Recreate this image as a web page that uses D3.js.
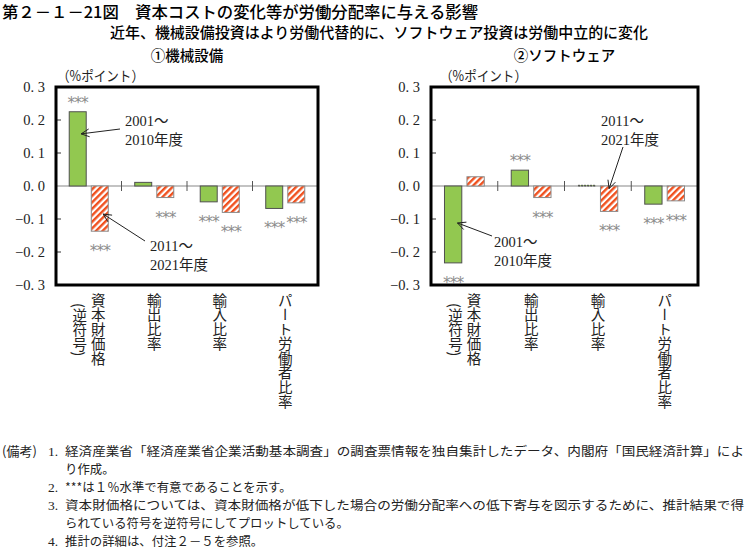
<!DOCTYPE html>
<html><head><meta charset="utf-8">
<script src="https://cdn.jsdelivr.net/npm/d3@7/dist/d3.min.js"></script>
<style>
html,body{margin:0;padding:0;background:#fff;}
svg{display:block;}
</style></head>
<body>
<svg id="c" width="750" height="551"></svg>
<script>
// ---- data ----
const categories = ["資本財価格", "輸出比率", "輸入比率", "パート労働者比率"];
const series = ["2001～2010年度", "2011～2021年度"];
const machinery2001 = [0.225, 0.011, -0.048, -0.068];
const machinery2011 = [-0.137, -0.035, -0.080, -0.051];
const software2001 = [-0.233, 0.048, 0.002, -0.055];
const software2011 = [0.028, -0.035, -0.077, -0.045];
const machinerySig2001 = [true, false, true, true];
const machinerySig2011 = [true, true, true, true];
const softwareSig2001 = [true, true, false, true];
const softwareSig2011 = [false, true, true, true];
const yTicks = [0.3, 0.2, 0.1, 0, -0.1, -0.2, -0.3];
const yTickLabels = ["0. 3", "0. 2", "0. 1", "0. 0", "−0. 1", "−0. 2", "−0. 3"];
const panelTitles = ["①機械設備", "②ソフトウェア"];
const unitLabel = "（%ポイント）";
const starText = "***";
const title = "第２－１－21図　資本コストの変化等が労働分配率に与える影響";
const subtitle = "近年、機械設備投資はより労働代替的に、ソフトウェア投資は労働中立的に変化";
const notes = [
  ["(備考)", "1.", "経済産業省「経済産業省企業活動基本調査」の調査票情報を独自集計したデータ、内閣府「国民経済計算」によ"],
  ["", "", "り作成。"],
  ["", "2.", "***は１％水準で有意であることを示す。"],
  ["", "3.", "資本財価格については、資本財価格が低下した場合の労働分配率への低下寄与を図示するために、推計結果で得"],
  ["", "", "られている符号を逆符号にしてプロットしている。"],
  ["", "4.", "推計の詳細は、付注２－５を参照。"]
];

const panels = [
  {values: [machinery2001, machinery2011], sig: [machinerySig2001, machinerySig2011], x0: 56, x1: 318},
  {values: [software2001, software2011], sig: [softwareSig2001, softwareSig2011], x0: 431, x1: 698}
];
// annotations: which bar the arrow points at, and where on it
const annotations = [
  {panel: 0, s: 0, c: 0, v: 0.158, f: 0.7, lines: ["2001～", "2010年度"], tx: 125, ty: 126, sx: 120, sy: 129},
  {panel: 0, s: 1, c: 0, v: -0.085, f: 0.7, lines: ["2011～", "2021年度"], tx: 150, ty: 251, sx: 145, sy: 241},
  {panel: 1, s: 1, c: 2, v: -0.008, f: 0.5, lines: ["2011～", "2021年度"], tx: 601, ty: 126, sx: 623, sy: 147},
  {panel: 1, s: 0, c: 0, v: -0.112, f: 0.75, lines: ["2001～", "2010年度"], tx: 494, ty: 247, sx: 492, sy: 236}
];

const JP = "'Noto Sans CJK JP','Noto Sans',sans-serif";
const SERIF = "'Liberation Serif','Noto Sans CJK JP',serif";
const svg = d3.select("#c");

// pattern
const defs = svg.append("defs");
const pat = defs.append("pattern").attr("id", "hatch").attr("patternUnits", "userSpaceOnUse")
  .attr("width", 4.6).attr("height", 4.6).attr("patternTransform", "rotate(45)");
pat.append("rect").attr("width", 4.6).attr("height", 4.6).attr("fill", "#fff");
pat.append("rect").attr("width", 2.4).attr("height", 4.6).attr("fill", "#F0501E");

// titles
svg.append("text").attr("x", 2).attr("y", 18).attr("font-family", JP).attr("font-size", 16)
  .attr("font-weight", 500).attr("textLength", 476).attr("lengthAdjust", "spacingAndGlyphs").text(title);
svg.append("text").attr("x", 379).attr("y", 38).attr("text-anchor", "middle").attr("font-family", JP)
  .attr("font-size", 15).attr("font-weight", 500).attr("textLength", 538).attr("lengthAdjust", "spacingAndGlyphs").text(subtitle);

const y = d3.scaleLinear().domain([-0.3, 0.3]).range([285, 87]);

panels.forEach((p, pi) => {
  const g = svg.append("g");
  const x = d3.scaleBand().domain(categories).range([p.x0, p.x1]).padding(0);
  const xs = d3.scaleBand().domain(series).range([0, x.bandwidth()]).paddingInner(0.23).paddingOuter(0.6);
  p.x = x; p.xs = xs;

  // panel title
  svg.append("text").attr("x", (p.x0 + p.x1) / 2).attr("y", 61).attr("text-anchor", "middle")
    .attr("font-family", JP).attr("font-size", 14.5).attr("font-weight", 500).text(panelTitles[pi]);
  // unit
  svg.append("text").attr("x", p.x0 + 1 + pi * 8).attr("y", 81).attr("font-family", JP)
    .attr("font-size", 14).attr("fill", "#222").attr("textLength", 87).attr("lengthAdjust", "spacingAndGlyphs").text(unitLabel);

  // y tick labels
  g.selectAll("text.yt").data(yTicks).enter().append("text")
    .attr("x", p.x0 - 11).attr("y", d => y(d) + 5).attr("text-anchor", "end")
    .attr("font-family", SERIF).attr("font-size", 14.5).attr("fill", "#222")
    .text((d, i) => yTickLabels[i]);
  // inside ticks
  g.selectAll("line.yt").data(yTicks.filter(d => Math.abs(d) > 0.001 && Math.abs(d) < 0.29)).enter().append("line")
    .attr("x1", p.x0).attr("x2", p.x0 + 5).attr("y1", d => y(d)).attr("y2", d => y(d))
    .attr("stroke", "#333").attr("stroke-width", 1);

  // zero line
  g.append("line").attr("x1", p.x0).attr("x2", p.x1).attr("y1", y(0)).attr("y2", y(0))
    .attr("stroke", "#888").attr("stroke-width", 1.2);
  // separators
  g.selectAll("line.sep").data(categories.slice(1)).enter().append("line")
    .attr("x1", d => x(d)).attr("x2", d => x(d)).attr("y1", y(0) - 5).attr("y2", y(0) + 5)
    .attr("stroke", "#555").attr("stroke-width", 1);

  // bars
  p.values.forEach((vals, si) => {
    g.selectAll("rect.s" + si).data(vals).enter().append("rect")
      .attr("x", (d, i) => x(categories[i]) + xs(series[si]))
      .attr("width", xs.bandwidth())
      .attr("y", d => Math.min(y(d), y(0)))
      .attr("height", d => Math.abs(y(d) - y(0)))
      .attr("fill", si === 0 ? "#92C850" : "url(#hatch)")
      .attr("stroke", si === 0 ? "#505050" : "#8a8a8a")
      .attr("stroke-width", 1)
      .attr("stroke-dasharray", d => Math.abs(d) < 0.005 ? "2,1" : null);
    // stars
    g.selectAll("text.st" + si).data(vals.map((v, i) => ({v, i})).filter(d => p.sig[si][d.i])).enter().append("text")
      .attr("x", d => x(categories[d.i]) + xs(series[si]) + xs.bandwidth() / 2)
      .attr("y", d => d.v >= 0 ? y(d.v) - 13 + 9 : y(d.v) + 16 + 9)
      .attr("text-anchor", "middle").attr("font-family", "'DejaVu Sans',sans-serif")
      .attr("font-size", 15.5).attr("letter-spacing", -1).attr("fill", "#8c8c8c").text(starText);
  });

  // frame
  g.append("rect").attr("x", p.x0).attr("y", 87).attr("width", p.x1 - p.x0).attr("height", 198)
    .attr("fill", "none").attr("stroke", "#000").attr("stroke-width", 3);

  // category labels (vertical)
  categories.forEach((c, i) => {
    const cx = x(c) + x.bandwidth() / 2;
    if (i === 0) {
      g.append("text").attr("x", cx + 9.5).attr("y", 293).style("writing-mode", "vertical-rl")
        .attr("font-family", JP).attr("font-size", 14.5).attr("fill", "#222").text(c);
      g.append("text").attr("x", cx - 9).attr("y", 303).style("writing-mode", "vertical-rl")
        .attr("font-family", JP).attr("font-size", 14.5).attr("fill", "#222").text("(逆符号)");
    } else {
      g.append("text").attr("x", cx).attr("y", 293).style("writing-mode", "vertical-rl")
        .attr("font-family", JP).attr("font-size", 14.5).attr("fill", "#222").text(c);
    }
  });
});

// annotations
annotations.forEach(a => {
  const p = panels[a.panel];
  const tipX = p.x(categories[a.c]) + p.xs(series[a.s]) + p.xs.bandwidth() * a.f;
  const tipY = y(a.v);
  const ang = Math.atan2(a.sy - tipY, a.sx - tipX);
  const L = 9, h = 0.45;
  svg.append("line").attr("x1", a.sx).attr("y1", a.sy).attr("x2", tipX).attr("y2", tipY)
    .attr("stroke", "#222").attr("stroke-width", 1);
  [ang - h, ang + h].forEach(t => {
    svg.append("line").attr("x1", tipX).attr("y1", tipY)
      .attr("x2", tipX + L * Math.cos(t)).attr("y2", tipY + L * Math.sin(t))
      .attr("stroke", "#222").attr("stroke-width", 1);
  });
  a.lines.forEach((t, k) => {
    svg.append("text").attr("x", a.tx).attr("y", a.ty + k * 19).attr("font-family", SERIF)
      .attr("font-size", 14.5).attr("fill", "#222").text(t);
  });
});

// notes
const noteY = [456, 474, 492, 510, 528, 546];
notes.forEach((n, i) => {
  if (n[0]) svg.append("text").attr("x", 2).attr("y", noteY[i]).attr("font-family", JP).attr("font-size", 13)
    .attr("fill", "#222").text(n[0]);
  if (n[1]) svg.append("text").attr("x", 48).attr("y", noteY[i]).attr("font-family", SERIF).attr("font-size", 13.5)
    .attr("fill", "#222").text(n[1]);
  const t = svg.append("text").attr("x", 65).attr("y", noteY[i]).attr("font-family", JP).attr("font-size", 12.4)
    .attr("fill", "#222").text(n[2]);
  if (i === 0 || i === 3) t.attr("textLength", 679).attr("lengthAdjust", "spacingAndGlyphs");
});
</script>
</body></html>
